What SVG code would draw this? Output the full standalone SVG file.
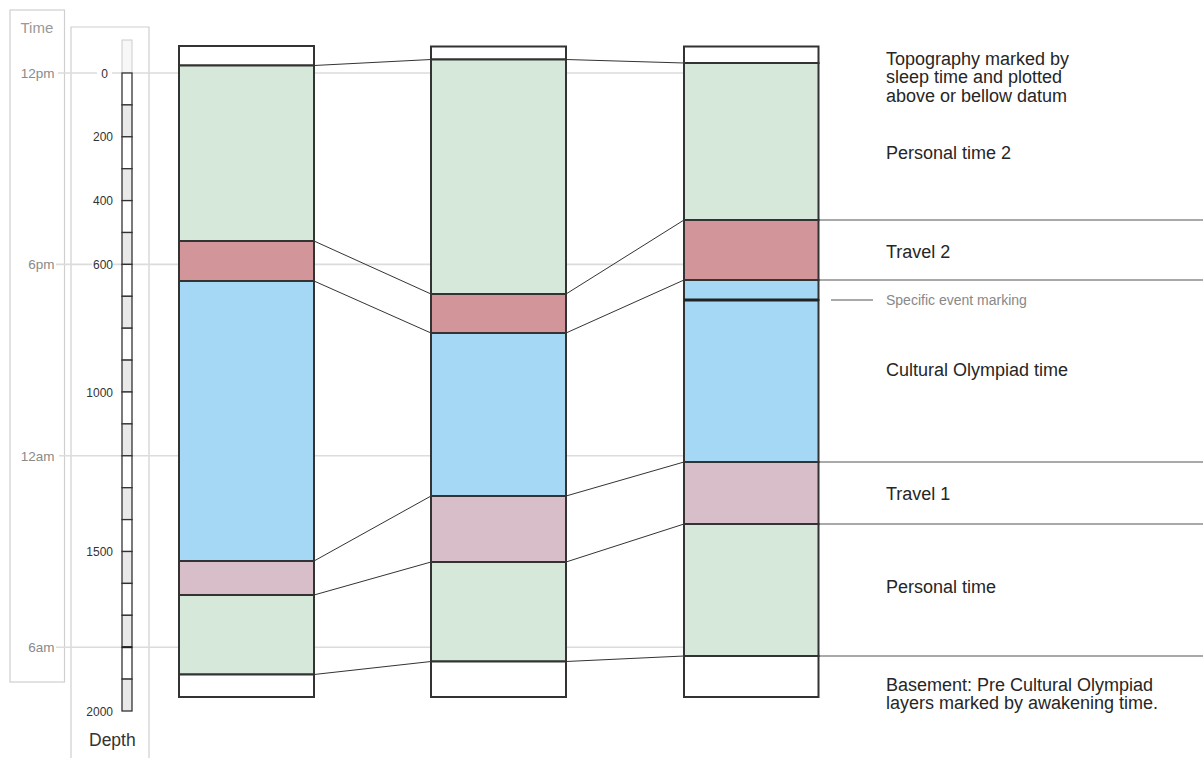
<svg xmlns="http://www.w3.org/2000/svg" width="1203" height="758" viewBox="0 0 1203 758">
<style>
text{font-family:"Liberation Sans",Arial,sans-serif}
.tl{font-size:13.5px;fill:#8a8a8a;text-anchor:end}
.dl{font-size:12px;fill:#333;text-anchor:end}
.lbl{font-size:18px;fill:#262626}
.grid{stroke:#dcdcdc;stroke-width:1.6;fill:none}
.box{stroke:#cfcfcf;stroke-width:1.2;fill:none}
.seg{stroke:#333;stroke-width:1.3}
.w{fill:#fff}.g{fill:#e9e9e9}
.col{stroke:#333;stroke-width:2}
.gr{fill:#d5e8da}.rd{fill:#d2969a}.bl{fill:#a4d8f5}.pk{fill:#d7bec8}
.con{stroke:#333;stroke-width:1;fill:none}
.rl{stroke:#555;stroke-width:1.2;fill:none}
</style>
<rect width="1203" height="758" fill="#fff"/>
<g id="axes">
<rect class="box" x="10" y="10" width="54.5" height="672"/>
<path class="box" d="M71 770V27H149V770"/>
<text x="20.5" y="33" style="font-size:15px;fill:#999">Time</text>
<g class="grid">
<path d="M58 73H97M112 73H684"/>
<path d="M56 264.4H92M113 264.4H684"/>
<path d="M59 455.8H684"/>
<path d="M56 647.2H684"/>
</g>
<text class="tl" x="54.5" y="78">12pm</text>
<text class="tl" x="54.5" y="269">6pm</text>
<text class="tl" x="54.5" y="460.5">12am</text>
<text class="tl" x="54.5" y="652">6am</text>
<rect x="122" y="40" width="10" height="33" fill="#f7f7f7" stroke="#ccc" stroke-width="1"/>
<g class="seg">
<rect class="w" x="122" y="73" width="10" height="31.9"/>
<rect class="g" x="122" y="104.9" width="10" height="31.9"/>
<rect class="w" x="122" y="136.8" width="10" height="31.9"/>
<rect class="g" x="122" y="168.7" width="10" height="31.9"/>
<rect class="w" x="122" y="200.6" width="10" height="31.9"/>
<rect class="g" x="122" y="232.5" width="10" height="31.9"/>
<rect class="w" x="122" y="264.4" width="10" height="31.9"/>
<rect class="g" x="122" y="296.3" width="10" height="31.9"/>
<rect class="w" x="122" y="328.2" width="10" height="31.9"/>
<rect class="g" x="122" y="360.1" width="10" height="31.9"/>
<rect class="w" x="122" y="392" width="10" height="31.9"/>
<rect class="g" x="122" y="423.9" width="10" height="31.9"/>
<rect class="w" x="122" y="455.8" width="10" height="31.9"/>
<rect class="g" x="122" y="487.7" width="10" height="31.9"/>
<rect class="w" x="122" y="519.6" width="10" height="31.9"/>
<rect class="g" x="122" y="551.5" width="10" height="31.9"/>
<rect class="w" x="122" y="583.4" width="10" height="31.9"/>
<rect class="g" x="122" y="615.3" width="10" height="31.9"/>
<rect class="w" x="122" y="647.2" width="10" height="31.9"/>
<rect class="g" x="122" y="679.1" width="10" height="31.9"/>
</g>
<path d="M122 647.2H132" stroke="#222" stroke-width="2"/>
<text class="dl" x="108" y="77.5">0</text>
<text class="dl" x="113" y="141">200</text>
<text class="dl" x="113" y="205">400</text>
<text class="dl" x="113" y="268.5">600</text>
<text class="dl" x="113" y="396.5">1000</text>
<text class="dl" x="113" y="556">1500</text>
<text class="dl" x="113" y="715.5">2000</text>
<text x="89" y="746" style="font-size:17.5px;fill:#333">Depth</text>
</g>
<g id="connectors">
<path class="con" d="M314 65.5L431 59.5M566 59.5L684 63"/>
<path class="con" d="M314 241L431 294M566 294L684 220"/>
<path class="con" d="M314 281L431 333M566 333L684 280"/>
<path class="con" d="M314 561L431 496M566 496L684 462"/>
<path class="con" d="M314 595L431 562M566 562L684 524"/>
<path class="con" d="M314 674.5L431 661.5M566 661.5L684 656"/>
<path class="rl" d="M818 220H1203M818 280H1203M818 462H1203M818 524H1203M818 656H1203"/>
<path class="rl" d="M831 300H873"/>
</g>
<g id="column1" class="col">
<rect class="w" x="179" y="46" width="135" height="19.5"/>
<rect class="gr" x="179" y="65.5" width="135" height="175.5"/>
<rect class="rd" x="179" y="241" width="135" height="40"/>
<rect class="bl" x="179" y="281" width="135" height="280"/>
<rect class="pk" x="179" y="561" width="135" height="34"/>
<rect class="gr" x="179" y="595" width="135" height="79.5"/>
<rect class="w" x="179" y="674.5" width="135" height="22.5"/>
</g>
<g id="column2" class="col">
<rect class="w" x="431" y="46.5" width="135" height="13"/>
<rect class="gr" x="431" y="59.5" width="135" height="234.5"/>
<rect class="rd" x="431" y="294" width="135" height="39"/>
<rect class="bl" x="431" y="333" width="135" height="163"/>
<rect class="pk" x="431" y="496" width="135" height="66"/>
<rect class="gr" x="431" y="562" width="135" height="99.5"/>
<rect class="w" x="431" y="661.5" width="135" height="35.5"/>
</g>
<g id="column3" class="col">
<rect class="w" x="684" y="46.5" width="134.5" height="16.5"/>
<rect class="gr" x="684" y="63" width="134.5" height="157"/>
<rect class="rd" x="684" y="220" width="134.5" height="60"/>
<rect class="bl" x="684" y="280" width="134.5" height="20"/>
<rect class="bl" x="684" y="300" width="134.5" height="162"/>
<rect class="pk" x="684" y="462" width="134.5" height="62"/>
<rect class="gr" x="684" y="524" width="134.5" height="132"/>
<rect class="w" x="684" y="656" width="134.5" height="41"/>
<path d="M684 300H818.5" stroke="#222" stroke-width="3.2"/>
</g>
<g id="labels">
<text class="lbl" x="886" y="65">Topography marked by</text>
<text class="lbl" x="886" y="83.3">sleep time and plotted</text>
<text class="lbl" x="886" y="101.7">above or bellow datum</text>
<text class="lbl" x="886" y="159">Personal time 2</text>
<text class="lbl" x="886" y="258.3">Travel 2</text>
<text x="886" y="304.5" style="font-size:14px;fill:#888">Specific event marking</text>
<text class="lbl" x="886" y="376">Cultural Olympiad time</text>
<text class="lbl" x="886" y="500">Travel 1</text>
<text class="lbl" x="886" y="593">Personal time</text>
<text class="lbl" x="886" y="691">Basement: Pre Cultural Olympiad</text>
<text class="lbl" x="886" y="709">layers marked by awakening time.</text>
</g>
</svg>
